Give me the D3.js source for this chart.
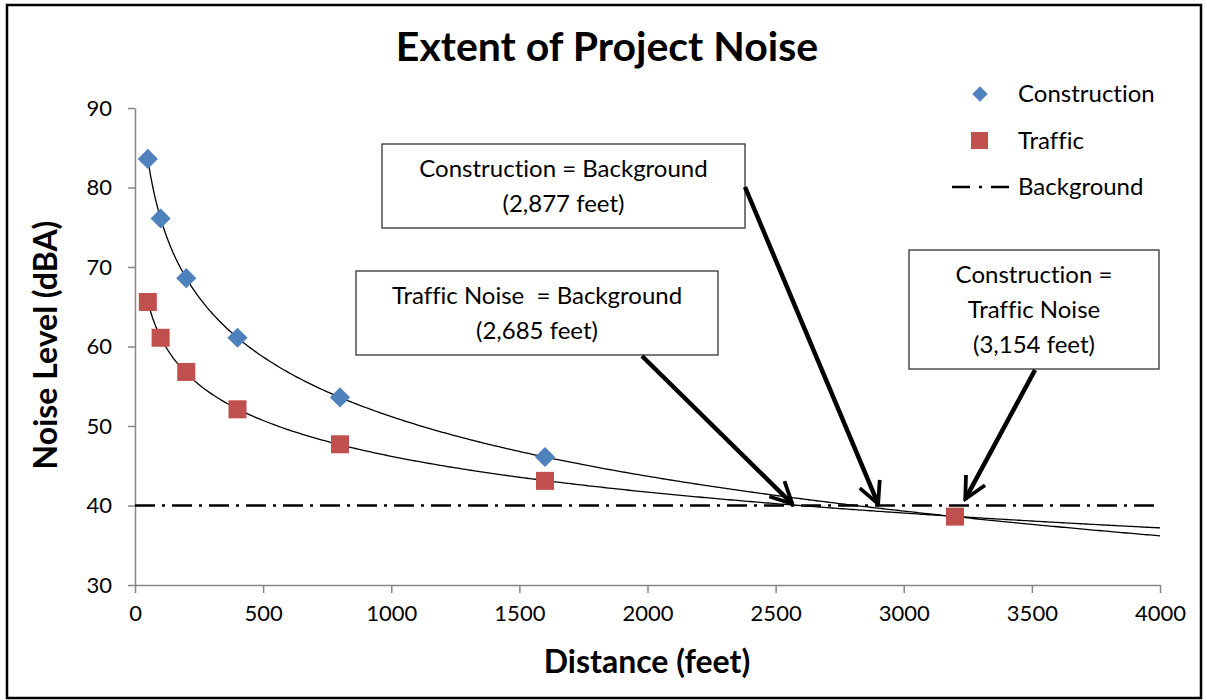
<!DOCTYPE html>
<html>
<head>
<meta charset="utf-8">
<script src="https://cdn.jsdelivr.net/npm/d3@7"></script>
<style>
  body { margin: 0; background: #fff; }
  text { font-family: Lato, "Open Sans", sans-serif; font-variant-ligatures: none; }
</style>
</head>
<body>
<div id="chart"></div>
<script>
// data
const constructionDist = [50, 100, 200, 400, 800, 1600];
const constructionDb   = [83.6, 76.1, 68.6, 61.1, 53.6, 46.1];
const trafficDist = [50, 100, 200, 400, 800, 1600, 3200];
const trafficDb   = [65.6, 61.1, 56.8, 52.1, 47.7, 43.1, 38.6];
const backgroundDb = 40;
const xTicks = [0, 500, 1000, 1500, 2000, 2500, 3000, 3500, 4000];
const yTicks = [30, 40, 50, 60, 70, 80, 90];

// annotations: text lines, box, arrow target (data units)
const notes = [
  { lines: ["Construction = Background", "(2,877 feet)"], box: [382, 144, 363, 84], from: [745, 187], to: [2900, 40.2] },
  { lines: ["Traffic Noise  = Background", "(2,685 feet)"], box: [356, 271, 362, 84], from: [642, 356], to: [2565, 40.2] },
  { lines: ["Construction =", "Traffic Noise", "(3,154 feet)"], box: [909, 250, 250, 119], from: [1035, 370], to: [3240, 40.8] }
];

const W = 1207, H = 700;
const svg = d3.select("#chart").append("svg")
  .attr("width", W).attr("height", H);

svg.append("rect")
  .attr("x", 7).attr("y", 5).attr("width", W - 13).attr("height", H - 7)
  .attr("fill", "#fff").attr("stroke", "#000").attr("stroke-width", 2.5);

const x = d3.scaleLinear().domain([0, 4000]).range([135, 1160]);
const y = d3.scaleLinear().domain([30, 90]).range([585, 108]);

// axes
const axisColor = "#868686";
const gx = svg.append("g").attr("transform", `translate(0,${y(30)})`)
  .call(d3.axisBottom(x).tickValues(xTicks).tickFormat(d3.format("d")).tickSize(8).tickSizeOuter(0).tickPadding(12));
const gy = svg.append("g").attr("transform", `translate(${x(0)},0)`)
  .call(d3.axisLeft(y).tickValues(yTicks).tickSize(7).tickSizeOuter(0).tickPadding(16));
[gx, gy].forEach(g => {
  g.select(".domain").attr("stroke", axisColor).attr("stroke-width", 1.5);
  g.selectAll(".tick line").attr("stroke", axisColor).attr("stroke-width", 1.5);
  g.selectAll(".tick text").attr("fill", "#000").style("font-size", "22px")
    .style("font-family", "Lato, sans-serif");
});

// titles
svg.append("text").attr("x", 607).attr("y", 61).attr("text-anchor", "middle")
  .style("font-size", "41px").style("font-weight", "bold").text("Extent of Project Noise");
svg.append("text").attr("x", 647).attr("y", 673).attr("text-anchor", "middle")
  .style("font-size", "32px").style("font-weight", "bold").text("Distance (feet)");
svg.append("text").attr("transform", "translate(57,345) rotate(-90)").attr("text-anchor", "middle")
  .style("font-size", "32px").style("font-weight", "bold").text("Noise Level (dBA)");

// background line
const dashDot = "20,7,3,7";
svg.append("line")
  .attr("x1", x(0)).attr("x2", x(4000)).attr("y1", y(backgroundDb)).attr("y2", y(backgroundDb))
  .attr("stroke", "#000").attr("stroke-width", 2.5).attr("stroke-dasharray", dashDot);

// logarithmic trendlines, least squares on ln(x)
function logFit(xs, ys) {
  const lx = xs.map(Math.log);
  const mx = d3.mean(lx), my = d3.mean(ys);
  const b = d3.sum(lx, (v, i) => (v - mx) * (ys[i] - my)) / d3.sum(lx, v => (v - mx) * (v - mx));
  return v => my + b * (Math.log(v) - mx);
}
const line = d3.line().x(d => x(d[0])).y(d => y(d[1]));
[[constructionDist, constructionDb], [trafficDist, trafficDb]].forEach(([xs, ys]) => {
  const f = logFit(xs, ys);
  const pts = d3.range(50, 4001, 10).map(v => [v, f(v)]);
  svg.append("path").attr("d", line(pts))
    .attr("fill", "none").attr("stroke", "#000").attr("stroke-width", 1.3);
});

// markers
const diamond = d3.symbol().type(d3.symbolDiamond2).size(260);
svg.append("g").selectAll("path").data(constructionDist).join("path")
  .attr("d", diamond)
  .attr("transform", (d, i) => `translate(${x(d)},${y(constructionDb[i])})`)
  .attr("fill", "#4F81BD");
svg.append("g").selectAll("rect").data(trafficDist).join("rect")
  .attr("x", d => x(d) - 9).attr("width", 18).attr("height", 18)
  .attr("y", (d, i) => y(trafficDb[i]) - 9)
  .attr("fill", "#C0504D");

// legend
const lg = svg.append("g");
lg.append("path").attr("d", d3.symbol().type(d3.symbolDiamond2).size(150)).attr("transform", "translate(980,94)").attr("fill", "#4F81BD");
lg.append("rect").attr("x", 971).attr("y", 132).attr("width", 17).attr("height", 17).attr("fill", "#C0504D");
lg.append("line").attr("x1", 950).attr("x2", 1015).attr("y1", 187).attr("y2", 187)
  .attr("stroke", "#000").attr("stroke-width", 2.5).attr("stroke-dasharray", "18,9,3,9").attr("stroke-dashoffset", -2);
[["Construction", 94], ["Traffic", 141], ["Background", 187]].forEach(([t, ty]) => {
  lg.append("text").attr("x", 1018).attr("y", ty).attr("dy", "0.35em")
    .style("font-size", "24px").text(t);
});

// annotation boxes and arrows
svg.append("defs").append("marker")
  .attr("id", "arrow").attr("viewBox", "0 0 10 10").attr("refX", 9).attr("refY", 5)
  .attr("markerWidth", 6).attr("markerHeight", 6).attr("markerUnits", "strokeWidth")
  .attr("orient", "auto")
  .append("path").attr("d", "M1,1 L9,5 L1,9").attr("fill", "none")
  .attr("stroke", "#000").attr("stroke-width", 1.4).attr("stroke-linejoin", "miter");

notes.forEach(n => {
  const [bx, by, bw, bh] = n.box;
  svg.append("rect").attr("x", bx).attr("y", by).attr("width", bw).attr("height", bh)
    .attr("fill", "#fff").attr("stroke", "#333").attr("stroke-width", 1.3);
  const step = 35;
  const top = by + bh / 2 - (n.lines.length - 1) * step / 2;
  n.lines.forEach((t, i) => {
    svg.append("text").attr("x", bx + bw / 2).attr("y", top + i * step).attr("dy", "0.35em")
      .attr("text-anchor", "middle").style("font-size", "24px").style("white-space", "pre")
      .attr("xml:space", "preserve").text(t);
  });
  svg.append("line")
    .attr("x1", n.from[0]).attr("y1", n.from[1])
    .attr("x2", x(n.to[0])).attr("y2", y(n.to[1]))
    .attr("stroke", "#000").attr("stroke-width", 4.5).attr("marker-end", "url(#arrow)");
});
</script>
</body>
</html>
